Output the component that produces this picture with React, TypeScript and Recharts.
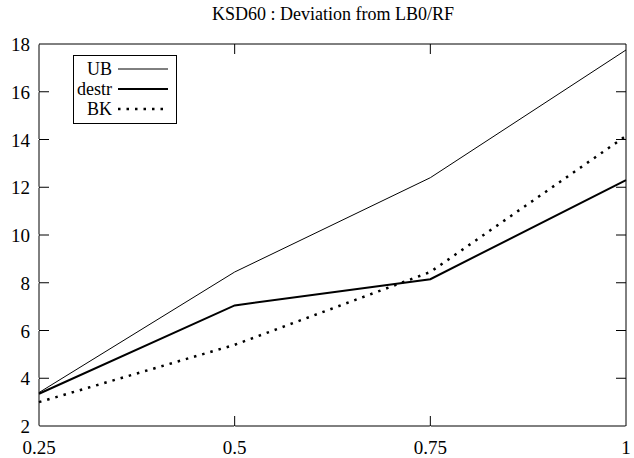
import React from 'react'
import { LineChart, Line, XAxis, YAxis, ReferenceLine } from 'recharts'

const xs = [0.25, 0.5, 0.75, 1]
const ub = [3.4, 8.45, 12.4, 17.75]
const destr = [3.35, 7.05, 8.15, 12.3]
const bk = [3.0, 5.4, 8.45, 14.15]
const xTicks = [0.25, 0.5, 0.75, 1]
const yTicks = [2, 4, 6, 8, 10, 12, 14, 16, 18]
const title = 'KSD60 : Deviation from LB0/RF'

const data = xs.map((x, i) => ({ x, UB: ub[i], destr: destr[i], BK: bk[i] }))

const font = '"Liberation Serif", "DejaVu Serif", serif'
const TICK = 10

const seriesStyle = [
  { key: 'UB', width: 1, dash: undefined as string | undefined },
  { key: 'destr', width: 2, dash: undefined as string | undefined },
  { key: 'BK', width: 2.5, dash: '2.5 6' },
]

function BottomTick(props: any) {
  const { x, y, payload } = props
  return (
    <text x={x} y={y + 20} textAnchor="middle" fontFamily={font} fontSize={19} fill="#000">
      {payload.value}
    </text>
  )
}
function LeftTick(props: any) {
  const { x, y, payload } = props
  return (
    <text x={x - 1} y={y + 7} textAnchor="end" fontFamily={font} fontSize={19} fill="#000">
      {payload.value}
    </text>
  )
}

// only the two inward tick stubs at both ends of a reference line
function TickStubs(props: any) {
  const { x1, y1, x2, y2 } = props
  const vertical = Math.abs(x1 - x2) < 0.5
  if (vertical) {
    const top = Math.min(y1, y2)
    const bottom = Math.max(y1, y2)
    return (
      <g>
        <line x1={x1} x2={x1} y1={top} y2={top + TICK} stroke="#000" strokeWidth={1} />
        <line x1={x1} x2={x1} y1={bottom} y2={bottom - TICK} stroke="#000" strokeWidth={1} />
      </g>
    )
  }
  const left = Math.min(x1, x2)
  const right = Math.max(x1, x2)
  return (
    <g>
      <line x1={left} x2={left + TICK} y1={y1} y2={y1} stroke="#000" strokeWidth={1} />
      <line x1={right} x2={right - TICK} y1={y1} y2={y1} stroke="#000" strokeWidth={1} />
    </g>
  )
}

function LegendBox() {
  return (
    <div
      style={{
        position: 'absolute',
        left: 73,
        top: 55,
        width: 102,
        border: '1px solid #000',
        background: '#fff',
        padding: '3px 0 4px 0',
        fontFamily: font,
        fontSize: 18,
        lineHeight: '20px',
        color: '#000',
      }}
    >
      {seriesStyle.map((s) => (
        <div key={s.key} style={{ display: 'flex', alignItems: 'center', justifyContent: 'flex-end' }}>
          <span>{s.key}</span>
          <svg width={62} height={20} style={{ marginLeft: 2 }}>
            <line x1={4} x2={54} y1={10} y2={10} stroke="#000" strokeWidth={s.width} strokeDasharray={s.dash} />
          </svg>
        </div>
      ))}
    </div>
  )
}

export default function App() {
  return (
    <div style={{ position: 'absolute', left: 0, top: 0, width: 634, height: 458, background: '#fff' }}>
      <LineChart width={634} height={458} data={data} margin={{ top: 44, right: 8, bottom: 0, left: 0 }}>
        <XAxis
          dataKey="x"
          type="number"
          domain={[0.25, 1]}
          ticks={xTicks}
          stroke="#000"
          tickLine={{ stroke: '#fff' }}
          height={32}
          tick={<BottomTick />}
          interval={0}
        />
        <YAxis
          type="number"
          domain={[2, 18]}
          ticks={yTicks}
          stroke="#000"
          tickLine={{ stroke: '#fff' }}
          width={39}
          tick={<LeftTick />}
          interval={0}
        />
        {/* frame: right and top borders */}
        <ReferenceLine x={1} stroke="#000" strokeWidth={1} />
        <ReferenceLine y={18} stroke="#000" strokeWidth={1} />
        {/* inward tick marks on all four sides */}
        {xTicks.slice(1, -1).map((t) => (
          <ReferenceLine key={'x' + t} x={t} shape={<TickStubs />} />
        ))}
        {yTicks.slice(1, -1).map((t) => (
          <ReferenceLine key={'y' + t} y={t} shape={<TickStubs />} />
        ))}
        {seriesStyle.map((s) => (
          <Line
            key={s.key}
            dataKey={s.key}
            stroke="#000"
            strokeWidth={s.width}
            strokeDasharray={s.dash}
            dot={false}
            isAnimationActive={false}
            type="linear"
          />
        ))}
      </LineChart>
      <div
        style={{
          position: 'absolute',
          top: 4,
          left: 0,
          width: 666,
          textAlign: 'center',
          fontFamily: font,
          fontSize: 18,
          color: '#000',
        }}
      >
        {title}
      </div>
      <LegendBox />
    </div>
  )
}
